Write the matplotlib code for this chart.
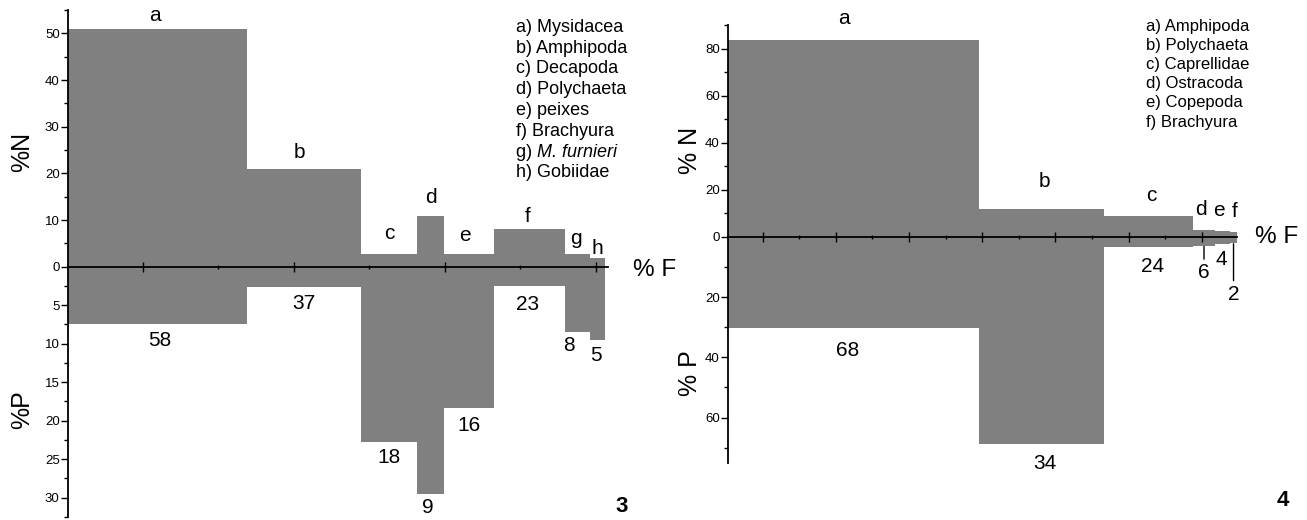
import numpy as np
import matplotlib
matplotlib.use('Agg')
import matplotlib.pyplot as plt
from matplotlib.ticker import FixedLocator

plt.rcParams['font.family'] = ['Liberation Sans', 'DejaVu Sans']

# --- panel 3 data ---
cats3 = ['a', 'b', 'c', 'd', 'e', 'f', 'g', 'h']
taxa3 = ['Mysidacea', 'Amphipoda', 'Decapoda', 'Polychaeta', 'peixes',
         'Brachyura', 'M. furnieri', 'Gobiidae']
F3 = [58, 37, 18, 9, 16, 23, 8, 5]
N3 = [51, 21, 2.8, 10.8, 2.8, 8, 2.7, 1.9]
P3 = [7.5, 2.6, 22.7, 29.5, 18.4, 2.5, 8.5, 9.5]

# --- panel 4 data ---
cats4 = ['a', 'b', 'c', 'd', 'e', 'f']
taxa4 = ['Amphipoda', 'Polychaeta', 'Caprellidae', 'Ostracoda', 'Copepoda', 'Brachyura']
F4 = [68, 34, 24, 6, 4, 2]
N4 = [83.5, 11.9, 8.9, 3, 2.5, 2]
P4 = [30.3, 68.7, 3.2, 2.9, 2.4, 2]

italic_taxa = {'M. furnieri'}

W, H = 1307, 520
GRAY = '#808080'
LBL = 15
TICK = 9.5


def fx(px):
    return px / W


def fy(py):
    return 1 - py / H


def panel(fig, x0, x1, y_top, y_zero, y_bot, xmax, ntop, nbot,
          F, N, P, cats, lab_dx, lab_dy, num_dy, num_dx, leaders,
          top_major, top_minor, bot_major, bot_minor, xmaj, xmin):
    ax_t = fig.add_axes([fx(x0), fy(y_zero), fx(x1 - x0), (y_zero - y_top) / H])
    ax_b = fig.add_axes([fx(x0), fy(y_bot), fx(x1 - x0), (y_bot - y_zero) / H])
    ax_t.set_zorder(3)
    for ax in (ax_t, ax_b):
        ax.set_facecolor('none')
        ax.set_xlim(0, xmax)
        for s in ('top', 'right'):
            ax.spines[s].set_visible(False)
        ax.spines['left'].set_linewidth(1.3)
        ax.tick_params(axis='y', which='major', direction='out', length=5,
                       width=1, labelsize=TICK, pad=1)
        ax.tick_params(axis='y', which='minor', direction='out', length=3, width=1)
    ax_t.set_ylim(0, ntop)
    ax_b.set_ylim(nbot, 0)
    ax_b.spines['bottom'].set_visible(False)
    ax_b.set_xticks([])

    ax_t.spines['bottom'].set_linewidth(1.3)
    ax_t.xaxis.set_major_locator(FixedLocator(xmaj))
    ax_t.xaxis.set_minor_locator(FixedLocator(xmin))
    ax_t.tick_params(axis='x', which='major', direction='inout', length=7, width=1,
                     labelbottom=False)
    ax_t.tick_params(axis='x', which='minor', direction='inout', length=3, width=1)

    ax_t.yaxis.set_major_locator(FixedLocator(top_major))
    ax_t.yaxis.set_minor_locator(FixedLocator(top_minor))
    ax_b.yaxis.set_major_locator(FixedLocator(bot_major))
    ax_b.yaxis.set_minor_locator(FixedLocator(bot_minor))

    left = np.concatenate([[0], np.cumsum(F)[:-1]])
    ax_t.bar(left, N, width=F, align='edge', color=GRAY, linewidth=0)
    ax_b.bar(left, P, width=F, align='edge', color=GRAY, linewidth=0)

    ctr = left + np.array(F) / 2
    for i, c in enumerate(cats):
        ax_t.annotate(c, xy=(ctr[i], N[i]), xytext=(lab_dx[i], lab_dy[i]),
                      textcoords='offset points', ha='center', va='center',
                      fontsize=LBL, annotation_clip=False)
        if leaders[i]:
            # short vertical leader line from bar bottom to its label
            ax_b.annotate(str(F[i]), xy=(ctr[i], P[i]), xytext=(0, num_dy[i]),
                          textcoords='offset points', ha='center', va='center',
                          fontsize=LBL, annotation_clip=False,
                          arrowprops=dict(arrowstyle='-', lw=1, color='black',
                                          shrinkA=1, shrinkB=0.5))
        else:
            ax_b.annotate(str(F[i]), xy=(ctr[i], P[i]), xytext=(num_dx[i], num_dy[i]),
                          textcoords='offset points', ha='center', va='center',
                          fontsize=LBL, annotation_clip=False)
    return ax_t, ax_b


def legend(fig, x, y0, dy, cats, taxa, size):
    for i, (c, t) in enumerate(zip(cats, taxa)):
        y = fy(y0 + i * dy)
        if t in italic_taxa:
            tg = fig.text(fx(x), y, c + ') ', fontsize=size, va='center')
            fig.canvas.draw()
            bb = tg.get_window_extent()
            fig.text(bb.x1 / W, y, t, fontsize=size, va='center', style='italic')
        else:
            fig.text(fx(x), y, c + ') ' + t, fontsize=size, va='center')


fig = plt.figure(figsize=(W / 100, H / 100), dpi=100)

# panel 3
x0 = 68
s3 = 3.086
panel(fig, x0, x0 + 175 * s3, 10, 266.7, 517, 175, 55, 32.5,
      F3, N3, P3, cats3,
      lab_dx=[-2, -3, 0, 0, -3, -1, -1, 0],
      lab_dy=[9.5, 11.5, 14.5, 13.5, 13, 9.5, 11, 7],
      num_dy=[-11.5, -12, -11.5, -10, -12, -13, -9.5, -11.5],
      num_dx=[2, 0, 0, -2, 0, -1, -6, -1],
      leaders=[False] * 8,
      top_major=np.arange(0, 51, 10), top_minor=np.arange(5, 56, 10),
      bot_major=np.arange(5, 31, 5), bot_minor=np.arange(2.5, 33, 5),
      xmaj=[24.3, 73.2, 122.1, 171.0], xmin=[48.75, 97.65, 146.55])

# panel 4
x0 = 728
s4 = 3.69
panel(fig, x0, x0 + 138 * s4, 25, 237, 462.7, 138, 90, 75,
      F4, N4, P4, cats4,
      lab_dx=[-7, 2, 2, -2, -2.5, 0.5],
      lab_dy=[16, 20, 15, 14.5, 14.5, 15],
      num_dy=[-16, -14, -14.5, -19.5, -11, -37],
      num_dx=[-4, 2, 3, 0, -1, 0],
      leaders=[False, False, False, True, False, True],
      top_major=np.arange(0, 81, 20), top_minor=np.arange(10, 91, 20),
      bot_major=[20, 40, 60], bot_minor=[10, 30, 50, 70],
      xmaj=9.4 + 19.83 * np.arange(7), xmin=19.3 + 19.83 * np.arange(6))

# axis titles
fig.text(fx(22), fy(152), '%N', fontsize=18, rotation=90, ha='center', va='center')
fig.text(fx(22), fy(410), '%P', fontsize=18, rotation=90, ha='center', va='center')
fig.text(fx(655), fy(270), '% F', fontsize=17.5, ha='center', va='center')
fig.text(fx(690), fy(150), '% N', fontsize=18, rotation=90, ha='center', va='center')
fig.text(fx(690), fy(373), '% P', fontsize=18, rotation=90, ha='center', va='center')
fig.text(fx(1277), fy(237), '% F', fontsize=17.5, ha='center', va='center')

fig.text(fx(622), fy(507), '3', fontsize=16, weight='bold', ha='center', va='center')
fig.text(fx(1283), fy(500), '4', fontsize=16, weight='bold', ha='center', va='center')

legend(fig, 516, 27.3, 20.8, cats3, taxa3, 13)
legend(fig, 1145.7, 26, 19.2, cats4, taxa4, 12)

fig.savefig('out.png', dpi=100)
